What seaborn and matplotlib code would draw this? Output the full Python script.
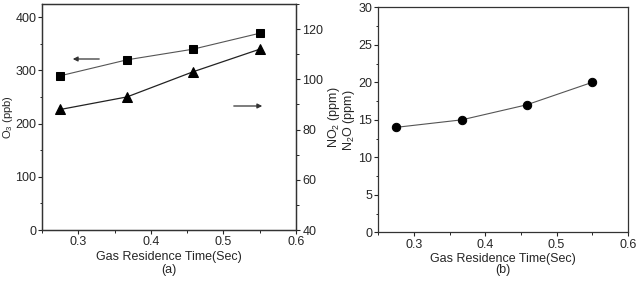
import pandas as pd
import matplotlib.pyplot as plt
import seaborn as sns
from matplotlib.ticker import MultipleLocator

# residence time (s)
time_sec = [0.275, 0.367, 0.458, 0.55]
o3_ppb = [290, 320, 340, 370]
no2_ppm = [88, 93, 103, 112]
n2o_ppm = [14, 15, 17, 20]

sns.set_style("ticks")
plt.rcParams["font.family"] = ["Liberation Sans", "DejaVu Sans"]
plt.rcParams["font.size"] = 8
plt.rcParams["mathtext.fontset"] = "custom"
plt.rcParams["mathtext.rm"] = "Liberation Sans"
plt.rcParams["axes.edgecolor"] = "#333333"
plt.rcParams["axes.linewidth"] = 0.9

df = pd.DataFrame({"t": time_sec, "o3": o3_ppb, "no2": no2_ppm, "n2o": n2o_ppm})

fig = plt.figure(figsize=(6.38, 2.83), dpi=100)
ax1 = fig.add_axes([0.066, 0.187, 0.398, 0.799])
ax2 = fig.add_axes([0.593, 0.179, 0.391, 0.795])

# (a) O3 on left, NO2 on right
sns.lineplot(data=df, x="t", y="o3", ax=ax1, marker="s", color="#555555",
             markerfacecolor="black", markeredgecolor="black", markersize=6, linewidth=0.8)
ax1r = ax1.twinx()
sns.lineplot(data=df, x="t", y="no2", ax=ax1r, marker="^", color="#222222",
             markerfacecolor="black", markeredgecolor="black", markersize=7, linewidth=0.9)

ax1.set_xlim(0.25, 0.6)
ax1.set_ylim(0, 425)
ax1r.set_ylim(40, 130)
ax1.xaxis.set_major_locator(MultipleLocator(0.1))
ax1.xaxis.set_minor_locator(MultipleLocator(0.05))
ax1.yaxis.set_major_locator(MultipleLocator(100))
ax1.yaxis.set_minor_locator(MultipleLocator(50))
ax1r.yaxis.set_major_locator(MultipleLocator(20))
ax1r.yaxis.set_minor_locator(MultipleLocator(10))
ax1.set_xlabel("Gas Residence Time(Sec)", fontsize=9, labelpad=2)
ax1.set_ylabel("O$_3$ (ppb)", fontsize=8)
ax1.yaxis.set_label_coords(-0.108, 0.5)
ax1r.set_ylabel("NO$_2$ (ppm)", fontsize=9, labelpad=2)

# arrows pointing to each series' axis
ax1.annotate("", xy=(70, 224), xytext=(102, 224), xycoords="figure pixels",
             textcoords="figure pixels",
             arrowprops=dict(arrowstyle="-|>", color="#333333", lw=0.9, mutation_scale=7))
ax1.annotate("", xy=(265, 177), xytext=(231, 177), xycoords="figure pixels",
             textcoords="figure pixels",
             arrowprops=dict(arrowstyle="-|>", color="#333333", lw=0.9, mutation_scale=7))

# (b) N2O
sns.lineplot(data=df, x="t", y="n2o", ax=ax2, marker="o", color="#555555",
             markerfacecolor="black", markeredgecolor="black", markersize=6, linewidth=0.8)
ax2.set_xlim(0.25, 0.6)
ax2.set_ylim(0, 30)
ax2.xaxis.set_major_locator(MultipleLocator(0.1))
ax2.xaxis.set_minor_locator(MultipleLocator(0.05))
ax2.yaxis.set_major_locator(MultipleLocator(5))
ax2.yaxis.set_minor_locator(MultipleLocator(2.5))
ax2.set_xlabel("Gas Residence Time(Sec)", fontsize=9, labelpad=2)
ax2.set_ylabel("N$_2$O (ppm)", fontsize=9, labelpad=1)

for ax in (ax1, ax1r, ax2):
    ax.tick_params(which="major", length=3, width=0.8, pad=1.5, labelsize=9)
    ax.tick_params(which="minor", length=1.8, width=0.7)
ax1.tick_params(axis="y", which="major", pad=1)
for ax in (ax1, ax2):
    for s in ax.spines.values():
        s.set_visible(True)
ax1.tick_params(axis="y", which="both", right=False)
ax1r.tick_params(axis="y", which="both", left=False)

fig.text(0.265, 0.035, "(a)", ha="center", fontsize=9)
fig.text(0.788, 0.035, "(b)", ha="center", fontsize=9)

plt.savefig("out.png", dpi=100)
plt.close()
